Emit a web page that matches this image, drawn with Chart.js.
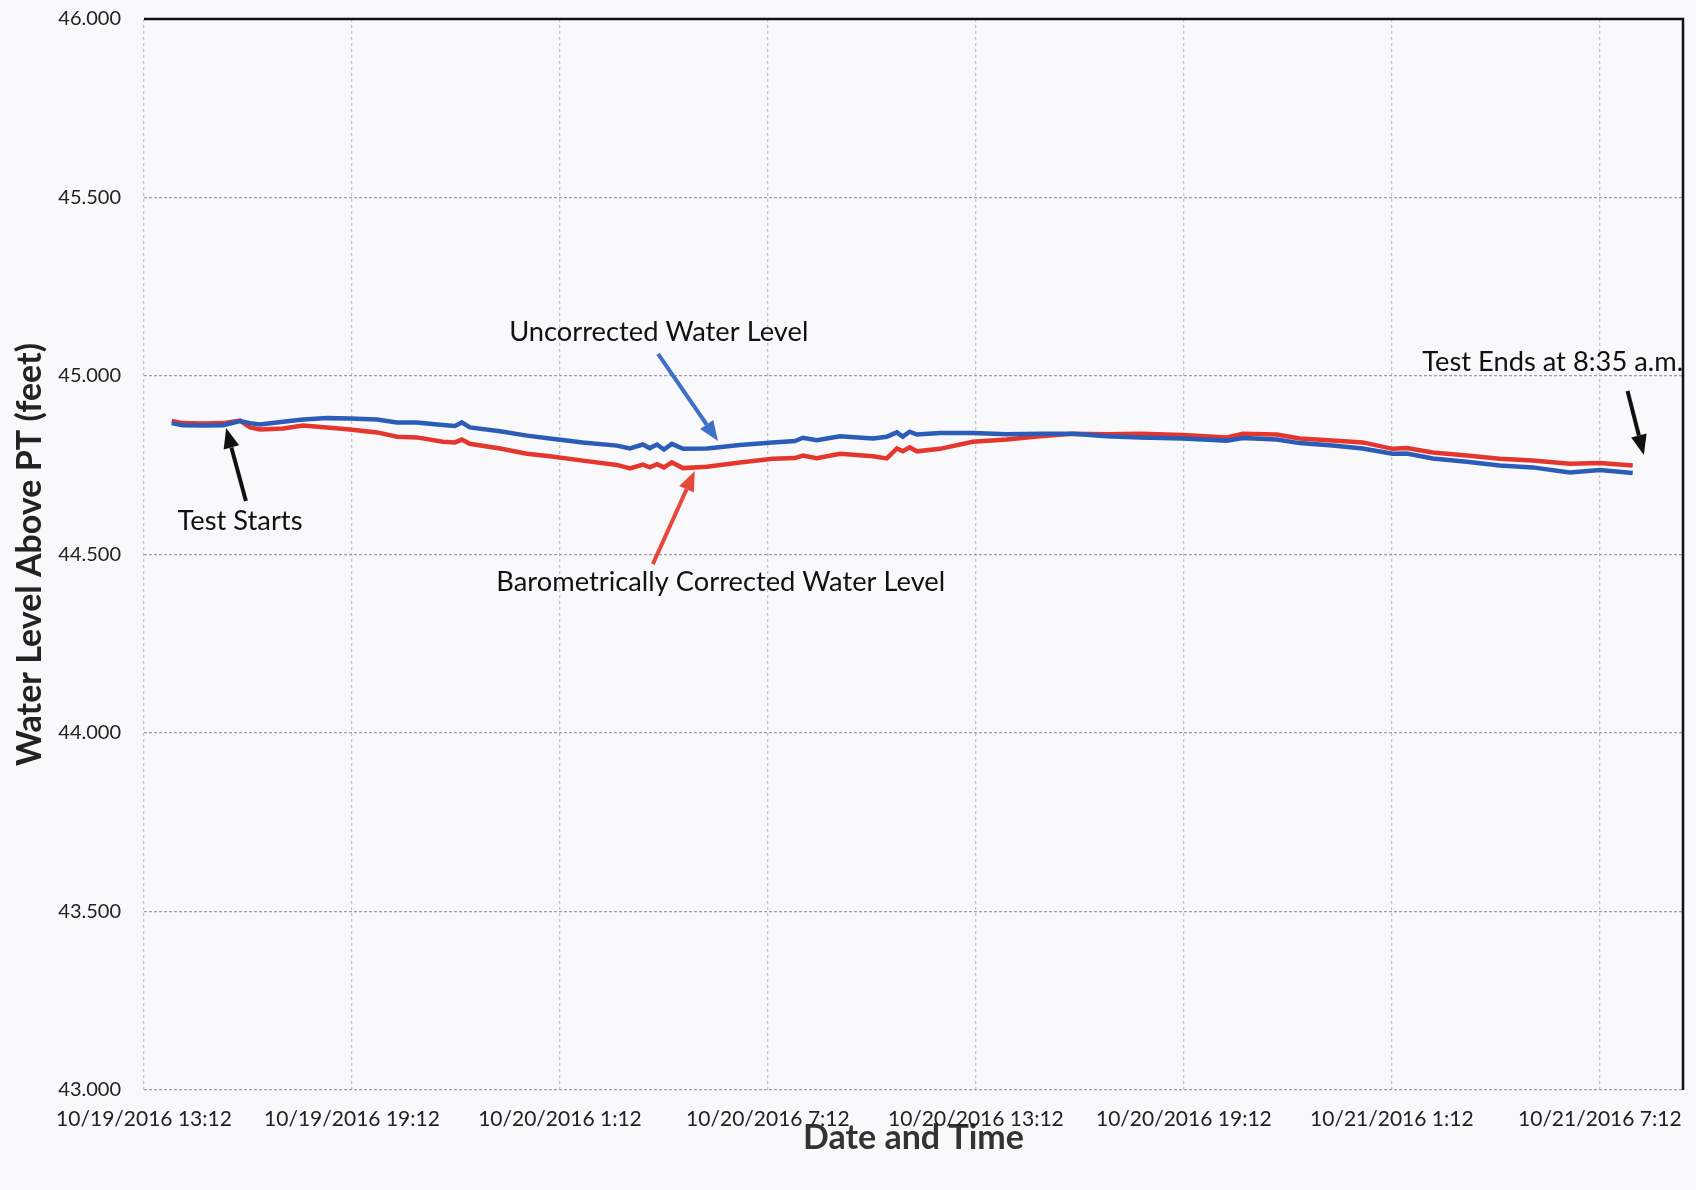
<!DOCTYPE html>
<html>
<head>
<meta charset="utf-8">
<script src="https://cdn.jsdelivr.net/npm/chart.js@4.4.1/dist/chart.umd.min.js"></script>
<style>
  html, body { margin: 0; padding: 0; background: #f9f9fb; }
  #wrap { width: 1696px; height: 1190px; }
</style>
</head>
<body>
<div id="wrap"><canvas id="c" width="1696" height="1190"></canvas></div>
<script>
// ---- data (hours since 10/19/2016 13:12) ----
const hours = [0.80, 1.12, 1.70, 2.28, 2.77, 3.06, 3.35, 4.01, 4.59, 5.28, 5.94, 6.72, 7.30, 7.87, 8.62, 8.97, 9.17, 9.40,
  10.27, 11.05, 11.71, 12.66, 13.64, 14.02, 14.39, 14.59, 14.80, 15.00, 15.23, 15.55, 16.24, 17.19, 18.14, 18.78, 19.01,
  19.41, 20.08, 21.03, 21.43, 21.72, 21.89, 22.09, 22.30, 22.96, 23.91, 24.89, 25.84, 26.80, 27.78, 28.73, 29.97, 31.24,
  31.70, 32.68, 33.34, 34.29, 35.16, 36.02, 36.43, 37.18, 38.16, 39.11, 40.06, 41.13, 42.00, 42.95];
const uncorrected = [44.868, 44.862, 44.861, 44.862, 44.874, 44.868, 44.864, 44.872, 44.878, 44.882, 44.881, 44.878, 44.870,
  44.870, 44.863, 44.860, 44.870, 44.856, 44.845, 44.833, 44.825, 44.814, 44.805, 44.797, 44.808, 44.798, 44.808, 44.794,
  44.810, 44.796, 44.797, 44.807, 44.814, 44.818, 44.827, 44.820, 44.831, 44.825, 44.830, 44.842, 44.830, 44.844, 44.836,
  44.840, 44.840, 44.837, 44.838, 44.838, 44.831, 44.828, 44.825, 44.819, 44.826, 44.822, 44.812, 44.805, 44.797, 44.782,
  44.783, 44.769, 44.760, 44.749, 44.744, 44.730, 44.737, 44.728];
const corrected = [44.874, 44.868, 44.867, 44.868, 44.875, 44.856, 44.850, 44.853, 44.861, 44.856, 44.850, 44.842, 44.830,
  44.828, 44.816, 44.814, 44.822, 44.810, 44.797, 44.782, 44.775, 44.763, 44.751, 44.741, 44.752, 44.744, 44.753, 44.744,
  44.758, 44.742, 44.746, 44.758, 44.768, 44.770, 44.777, 44.770, 44.782, 44.775, 44.769, 44.797, 44.789, 44.800, 44.789,
  44.796, 44.816, 44.822, 44.831, 44.838, 44.837, 44.838, 44.835, 44.828, 44.838, 44.836, 44.825, 44.819, 44.814, 44.796,
  44.798, 44.786, 44.777, 44.768, 44.763, 44.754, 44.756, 44.749];
const tickLabels = ['10/19/2016 13:12', '10/19/2016 19:12', '10/20/2016 1:12', '10/20/2016 7:12',
  '10/20/2016 13:12', '10/20/2016 19:12', '10/21/2016 1:12', '10/21/2016 7:12'];
const tickStepHours = 6;
const axisMaxHours = 44.4;

// annotations in data units: text centre, arrow start, arrow end
const notes = [
  { text: 'Uncorrected Water Level', at: [14.85, 45.123], from: [14.83, 45.062], to: [16.56, 44.818], color: '#3f6fc6' },
  { text: 'Barometrically Corrected Water Level', at: [16.64, 44.423], from: [14.68, 44.473], to: [15.89, 44.734], color: '#e8473d' },
  { text: 'Test Starts', at: [2.77, 44.594], from: [2.94, 44.650], to: [2.37, 44.854], color: '#111111' },
  { text: 'Test Ends at 8:35 a.m.', at: [40.64, 45.039], from: [42.80, 44.958], to: [43.27, 44.779], color: '#111111' }
];

const toPoints = (ys) => ys.map((y, i) => ({ x: hours[i], y }));

const annotPlugin = {
  id: 'annot',
  afterDatasetsDraw(chart) {
    const { ctx, scales: { x, y }, chartArea } = chart;
    ctx.save();
    notes.forEach(n => {
      const x1 = x.getPixelForValue(n.from[0]), y1 = y.getPixelForValue(n.from[1]);
      const x2 = x.getPixelForValue(n.to[0]), y2 = y.getPixelForValue(n.to[1]);
      const ang = Math.atan2(y2 - y1, x2 - x1);
      const head = 20, hw = 8;
      const bx = x2 - head * Math.cos(ang), by = y2 - head * Math.sin(ang);
      ctx.strokeStyle = n.color; ctx.fillStyle = n.color; ctx.lineWidth = 4; ctx.lineCap = 'butt';
      ctx.beginPath(); ctx.moveTo(x1, y1); ctx.lineTo(bx, by); ctx.stroke();
      ctx.beginPath();
      ctx.moveTo(x2, y2);
      ctx.lineTo(bx + hw * Math.sin(ang), by - hw * Math.cos(ang));
      ctx.lineTo(bx - hw * Math.sin(ang), by + hw * Math.cos(ang));
      ctx.closePath(); ctx.fill();
      ctx.fillStyle = '#111';
      ctx.font = '27.3px Lato';
      ctx.textAlign = 'center'; ctx.textBaseline = 'middle';
      ctx.fillText(n.text, x.getPixelForValue(n.at[0]), y.getPixelForValue(n.at[1]));
    });
    // top and right black frame
    ctx.strokeStyle = '#111'; ctx.lineWidth = 2.5;
    ctx.beginPath();
    ctx.moveTo(chartArea.left, chartArea.top);
    ctx.lineTo(chartArea.right, chartArea.top);
    ctx.lineTo(chartArea.right, chartArea.bottom);
    ctx.stroke();
    ctx.restore();
  }
};

new Chart(document.getElementById('c'), {
  type: 'line',
  data: {
    datasets: [
      { label: 'Uncorrected Water Level', data: toPoints(uncorrected), borderColor: '#2b5cb8', borderWidth: 4.5, pointRadius: 0, tension: 0, fill: false },
      { label: 'Barometrically Corrected Water Level', data: toPoints(corrected), borderColor: '#e5362e', borderWidth: 4.5, pointRadius: 0, tension: 0, fill: false }
    ]
  },
  options: {
    responsive: false,
    animation: false,
    layout: { padding: { top: 19, right: 13, left: 0, bottom: 0 } },
    plugins: { legend: { display: false }, tooltip: { enabled: false } },
    scales: {
      x: {
        type: 'linear', min: 0, max: axisMaxHours,
        afterBuildTicks: s => { s.ticks = tickLabels.map((_, i) => ({ value: i * tickStepHours })); },
        afterFit: s => { s.height = 100; s.paddingLeft = 0; s.paddingRight = 0; },
        ticks: { autoSkip: false, maxRotation: 0, padding: 17, color: '#222', font: { family: 'Lato', size: 21 },
          callback: v => tickLabels[Math.round(v / tickStepHours)] },
        grid: { drawTicks: false, color: '#c4c2d2', lineWidth: 1.3 },
        border: { display: false, dash: [3, 3] },
        title: { display: true, text: 'Date and Time', color: '#333', font: { family: 'Lato', size: 34, weight: 'bold' }, padding: { top: 0, bottom: 32 } }
      },
      y: {
        min: 43, max: 46,
        afterBuildTicks: s => { const t = []; for (let v = 43; v <= 46.0001; v += 0.5) t.push({ value: v }); s.ticks = t; },
        afterFit: s => { s.width = 144; s.paddingTop = 0; s.paddingBottom = 0; },
        ticks: { padding: 23, color: '#222', font: { family: 'Lato', size: 20 }, callback: v => v.toFixed(3) },
        grid: { drawTicks: false, color: '#a19cb4', lineWidth: 1.3 },
        border: { display: false, dash: [3, 2] },
        title: { display: true, text: 'Water Level Above PT (feet)', color: '#222', font: { family: 'Lato', size: 34, weight: 'bold' }, padding: { top: 10, bottom: 0 } }
      }
    }
  },
  plugins: [annotPlugin]
});
</script>
</body>
</html>
